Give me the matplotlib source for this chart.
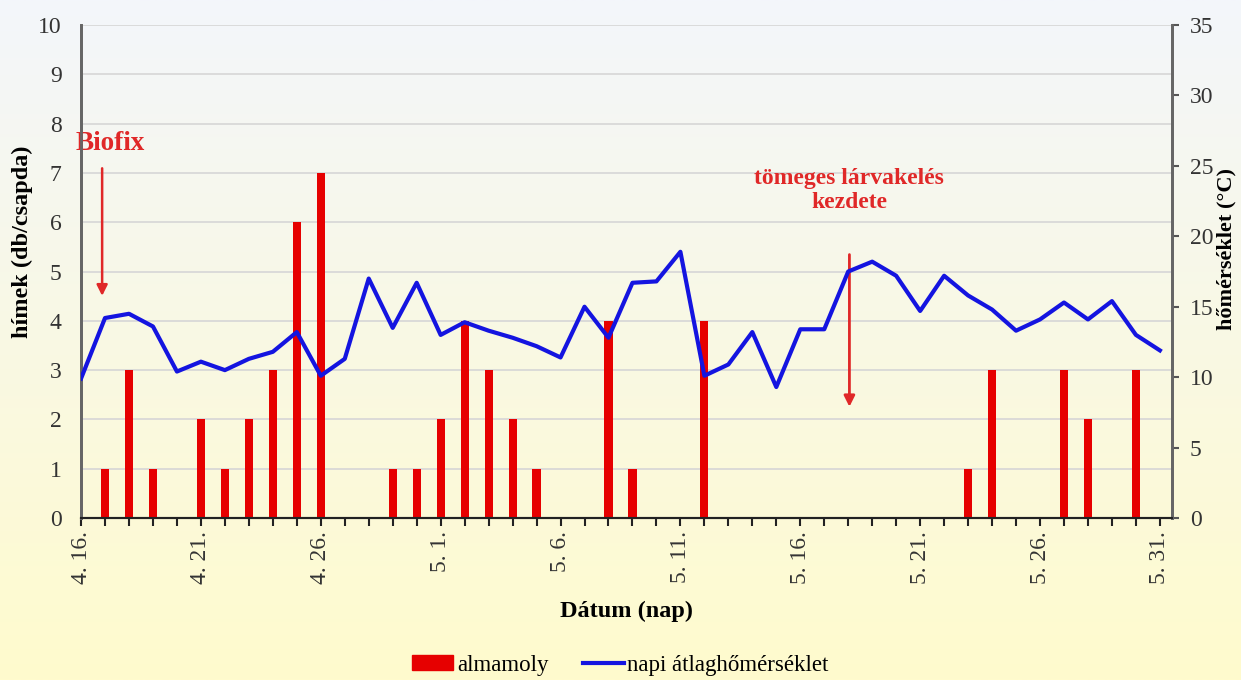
import numpy as np
import matplotlib
matplotlib.use("Agg")
import matplotlib.pyplot as plt
from matplotlib.patches import Patch
from matplotlib.lines import Line2D

plt.rcParams['font.family'] = ['Liberation Serif', 'DejaVu Serif']

# napok: 4.16 - 5.31
days = [f"4. {d}." for d in range(16, 31)] + [f"5. {d}." for d in range(1, 32)]

# almamoly fogások (db/csapda)
moths = [0, 1, 3, 1, 0, 2, 1, 2, 3, 6, 7, 0, 0, 1, 1,
         2, 4, 3, 2, 1, 0, 0, 4, 1, 0, 0, 4, 0, 0, 0,
         0, 0, 0, 0, 0, 0, 0, 1, 3, 0, 0, 3, 2, 0, 3, 0]

# napi átlaghőmérséklet (°C)
temp = [9.9, 14.2, 14.5, 13.6, 10.4, 11.1, 10.5, 11.3, 11.8, 13.2, 10.1, 11.3, 17.0, 13.5, 16.7,
        13.0, 13.9, 13.3, 12.8, 12.2, 11.4, 15.0, 12.8, 16.7, 16.8, 18.9, 10.1, 10.9, 13.2, 9.3,
        13.4, 13.4, 17.5, 18.2, 17.2, 14.7, 17.2, 15.8, 14.8, 13.3, 14.1, 15.3, 14.1, 15.4, 13.0, 11.9]

x = np.arange(len(days))

fig = plt.figure(figsize=(12.41, 6.80), dpi=100)

# háttér színátmenet
bg = fig.add_axes([0, 0, 1, 1], zorder=-10)
top_c = np.array([243, 246, 251]) / 255
bot_c = np.array([255, 251, 205]) / 255
t = np.linspace(0, 1, 256)[:, None]
grad = top_c * (1 - t[..., None]) + bot_c * t[..., None]
grad = np.repeat(grad, 2, axis=1)
bg.imshow(grad, aspect='auto', extent=[0, 1, 0, 1])
bg.axis('off')

ax = fig.add_axes([0.0653, 0.2382, 0.879, 0.725])
ax.set_facecolor('none')
ax2 = ax.twinx()

ax.bar(x, moths, width=0.34, color='#E60000', zorder=3)
ax2.plot(x, temp, color='#1414E0', lw=3, zorder=4)

ax.set_xlim(0, len(days) - 0.5)
ax.set_ylim(0, 10)
ax2.set_ylim(0, 35)
ax.set_yticks(range(0, 11))
ax2.set_yticks(range(0, 36, 5))
ax.yaxis.grid(True, color='#d6d6d6', lw=1.2, zorder=0)
ax.set_axisbelow(True)

ax.set_xticks(x, minor=True)
ax.set_xticks(x[::5])
ax.set_xticklabels([days[i] for i in x[::5]], rotation=90, fontsize=17, color='#333333')
ax.tick_params(axis='x', which='both', direction='out', length=6, width=1.5, color='#222222')
ax.tick_params(axis='y', length=0, labelsize=17, labelcolor='#333333', pad=14)
ax2.tick_params(axis='y', length=5, width=1.5, color='#555555', labelsize=17, labelcolor='#333333', pad=8)

for a in (ax, ax2):
    a.spines['top'].set_visible(False)
    a.spines['left'].set_color('#666666')
    a.spines['left'].set_linewidth(2)
    a.spines['right'].set_color('#666666')
    a.spines['right'].set_linewidth(2)
    a.spines['bottom'].set_color('#222222')
    a.spines['bottom'].set_linewidth(1.5)

ax.set_ylabel('hímek (db/csapda)', fontsize=17.5, fontweight='bold')
ax.yaxis.set_label_coords(-0.044, 0.56)
ax2.set_ylabel('hőmérséklet (°C)', fontsize=16, fontweight='bold')
ax2.yaxis.set_label_coords(1.041, 0.545)
ax.set_xlabel('Dátum (nap)', fontsize=17.5, fontweight='bold', labelpad=12)

red = '#E02828'
ax.annotate('', xy=(0.88, 4.45), xytext=(0.88, 7.15),
            arrowprops=dict(arrowstyle='-|>', color=red, lw=1.8, mutation_scale=16), zorder=5)
ax.text(1.2, 7.6, 'Biofix', color=red, fontsize=19.5, fontweight='bold', ha='center', va='center')
ax.annotate('', xy=(32.05, 2.2), xytext=(32.05, 5.4),
            arrowprops=dict(arrowstyle='-|>', color=red, lw=2, mutation_scale=16), zorder=6)
ax.text(32.05, 6.65, 'tömeges lárvakelés\nkezdete', color=red, fontsize=17, fontweight='bold',
        ha='center', va='center', linespacing=1.2)

handles = [Patch(color='#E60000'), Line2D([0], [0], color='#1414E0', lw=3)]
fig.legend(handles, ['almamoly', 'napi átlaghőmérséklet'], loc='center',
           bbox_to_anchor=(0.5, 0.022), ncol=2, frameon=False, fontsize=16.5,
           handlelength=1.8, handleheight=0.6, handletextpad=0.15, columnspacing=1.5)

fig.savefig('out.png', dpi=100)
